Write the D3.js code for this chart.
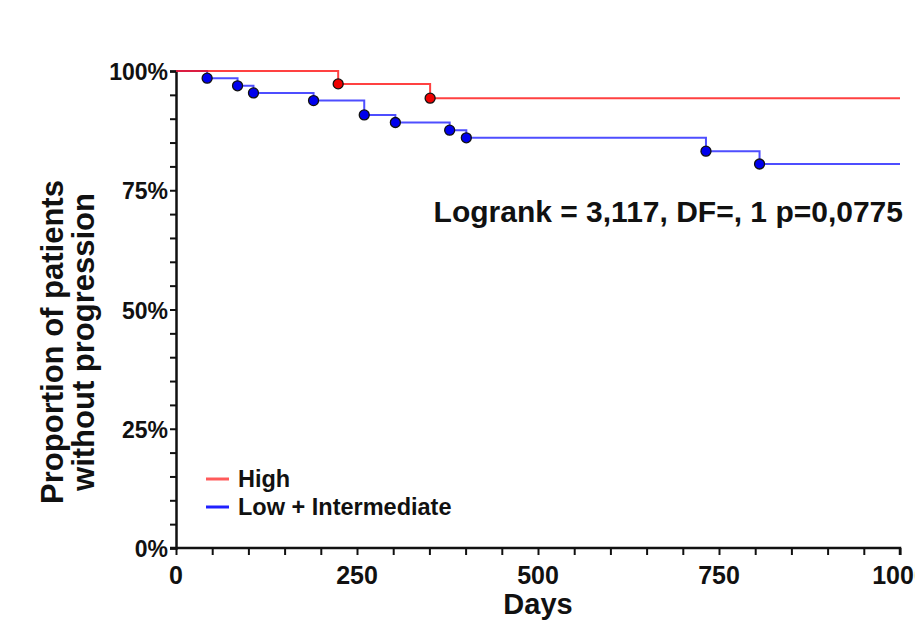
<!DOCTYPE html>
<html>
<head>
<meta charset="utf-8">
<script src="https://cdn.jsdelivr.net/npm/d3@7"></script>
<style>
  body { margin: 0; background: #fff; }
  text { font-family: "Liberation Sans", Arial, sans-serif; font-weight: bold; fill: #111; }
</style>
</head>
<body>
<div id="viz"></div>
<script>
// series: event days and survival (%) after each step
var highDays = [224, 351];
var highSurv = [97.3, 94.3];
var lowDays = [43, 85, 107, 190, 260, 303, 378, 401, 732, 806];
var lowSurv = [98.5, 96.9, 95.4, 93.8, 90.8, 89.2, 87.6, 86.0, 83.2, 80.5];
var xTicks = [0, 250, 500, 750, 1000];
var yTicks = [0, 25, 50, 75, 100];
var seriesNames = ["High", "Low + Intermediate"];

var W = 915, H = 622;
var m = {left: 176, right: 15, top: 71, bottom: 74};

var svg = d3.select("#viz").append("svg")
    .attr("width", W)
    .attr("height", H);

var x = d3.scaleLinear().domain([0, 1000]).range([m.left, W - m.right]);
var y = d3.scaleLinear().domain([0, 100]).range([H - m.bottom, m.top]);

// axes
var xAxis = svg.append("g")
    .attr("transform", "translate(0," + y(0) + ")")
    .call(d3.axisBottom(x).tickValues(d3.range(0, 1001, 50)).tickSize(7).tickFormat(""));
var yAxis = svg.append("g")
    .attr("transform", "translate(" + x(0) + ",0)")
    .call(d3.axisLeft(y).tickValues(d3.range(0, 101, 5)).tickSize(6).tickFormat(""));

[xAxis, yAxis].forEach(function(a){
    a.select(".domain").attr("stroke", "#111").attr("stroke-width", 2.5);
    a.selectAll(".tick line").attr("stroke", "#111").attr("stroke-width", 2);
});
xAxis.select(".domain").attr("d", "M" + (x(0) - 6) + ",0H" + x(1000) + "V7");

svg.selectAll(".xlab").data(xTicks).enter().append("text")
    .attr("x", function(d){ return x(d); })
    .attr("y", 584)
    .attr("text-anchor", "middle")
    .style("font-size", "25px")
    .text(function(d){ return d; });

svg.selectAll(".ylab").data(yTicks).enter().append("text")
    .attr("x", 168)
    .attr("y", function(d){ return y(d) + 9; })
    .attr("text-anchor", "end")
    .style("font-size", "23px")
    .text(function(d){ return d + "%"; });

svg.append("text")
    .attr("x", x(500))
    .attr("y", 614)
    .attr("text-anchor", "middle")
    .style("font-size", "29px")
    .text("Days");

var yt = svg.append("text")
    .attr("transform", "translate(63,342) rotate(-90)")
    .attr("text-anchor", "middle")
    .style("font-size", "31px");
yt.append("tspan").attr("x", 0).attr("dy", 0).text("Proportion of patients");
yt.append("tspan").attr("x", 0).attr("dy", 31).text("without progression");

svg.append("text")
    .attr("x", 903)
    .attr("y", 222)
    .attr("text-anchor", "end")
    .style("font-size", "30px")
    .text("Logrank = 3,117, DF=, 1 p=0,0775");

// curves
var line = d3.line()
    .x(function(d){ return x(d[0]); })
    .y(function(d){ return y(d[1]); })
    .curve(d3.curveStepAfter);

var drawCurve = function(days, surv, col, dot){
    var pts = [[0, 100]];
    for (var i = 0; i < days.length; i++) pts.push([days[i], surv[i]]);
    pts.push([1000, surv[surv.length - 1]]);
    svg.append("path")
        .attr("d", line(pts))
        .attr("fill", "none")
        .attr("stroke", col)
        .attr("stroke-opacity", 0.8)
        .attr("stroke-width", 2);
    svg.append("g").selectAll("circle")
        .data(days.map(function(d, i){ return [d, surv[i]]; }))
        .enter().append("circle")
        .attr("cx", function(d){ return x(d[0]); })
        .attr("cy", function(d){ return y(d[1]); })
        .attr("r", 5)
        .attr("fill", dot)
        .attr("stroke", "#111")
        .attr("stroke-width", 1.3);
};
drawCurve(lowDays, lowSurv, "#2222ff", "#0000ee");
drawCurve(highDays, highSurv, "#ff1111", "#ee0000");

// legend
var legCols = ["#ff5a5a", "#2020ff"];
var leg = svg.append("g").selectAll("g").data(seriesNames).enter().append("g")
    .attr("transform", function(d, i){ return "translate(206," + (479 + i * 28) + ")"; });
leg.append("line")
    .attr("x1", 0).attr("x2", 23)
    .attr("stroke", function(d, i){ return legCols[i]; })
    .attr("stroke-width", 3);
leg.append("text")
    .attr("x", 32)
    .attr("y", 8)
    .style("font-size", "23.5px")
    .text(function(d){ return d; });
</script>
</body>
</html>
